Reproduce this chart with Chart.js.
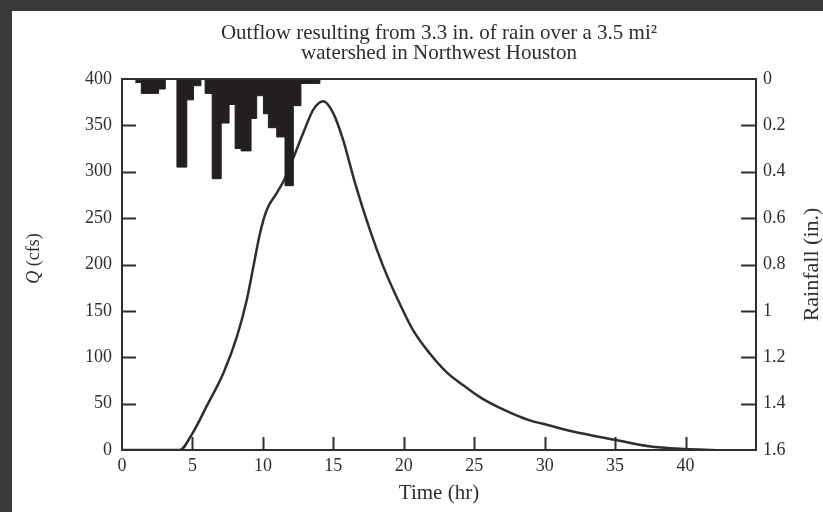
<!DOCTYPE html>
<html>
<head>
<meta charset="utf-8">
<script src="https://cdn.jsdelivr.net/npm/chart.js@4.4.0/dist/chart.umd.min.js"></script>
<style>
  html, body { margin: 0; padding: 0; background: #383838; }
  #wrap { position: absolute; left: 12px; top: 11px; width: 811px; height: 501px; background: #fff; }
</style>
</head>
<body>
<div id="wrap"><canvas id="chart"></canvas></div>
<script>
// outflow hydrograph: time (hr) and discharge Q (cfs)
const flowTime = [0, 4.1, 5, 6, 7.2, 8.15, 8.86, 9.33, 9.8, 10.28, 10.98, 11.57, 12.16, 12.87, 13.58, 14.29, 15.0, 15.7, 16.5, 17.6, 18.54, 19.49, 20.67, 21.85, 23.03, 24.2, 25.4, 26.6, 27.75, 28.94, 30.2, 32, 35, 37.4, 40, 42];
const flowQ    = [0, 0, 18, 47, 83, 122, 162, 198, 234, 259, 277, 293, 315, 342, 367, 376, 363, 334, 290, 237, 198, 165, 129, 104, 84, 70, 57, 47, 39, 32, 27, 20, 11, 4, 1, 0];

// rainfall hyetograph: start of each block (hr) and depth (in.), last entry closes the storm
const rainTime  = [0.94, 1.37, 2.6, 3.07, 3.9, 4.6, 5.07, 5.6, 5.9, 6.4, 7.04, 7.6, 8.03, 8.45, 9.16, 9.56, 10.04, 10.39, 10.98, 11.57, 12.16, 12.7, 14.05];
const rainDepth = [0.015, 0.062, 0.043, 0, 0.38, 0.09, 0.029, 0, 0.062, 0.43, 0.19, 0.11, 0.30, 0.31, 0.17, 0.072, 0.15, 0.21, 0.25, 0.46, 0.115, 0.019, 0];

const xTicks = [0, 5, 10, 15, 20, 25, 30, 35, 40];
const qTicks = [0, 50, 100, 150, 200, 250, 300, 350, 400];
const rainTicks = [0, 0.2, 0.4, 0.6, 0.8, 1, 1.2, 1.4, 1.6];

const titleLines = ['Outflow resulting from 3.3 in. of rain over a 3.5 mi\u00B2', 'watershed in Northwest Houston'];

const ink = '#2e2e2e';
const serif = '"Liberation Serif", "Times New Roman", serif';

// box around the plot, inward tick marks and the hand-set titles
const frame = {
  id: 'frame',
  afterDatasetsDraw(chart) {
    const { ctx, chartArea: a, scales } = chart;
    ctx.save();
    ctx.strokeStyle = ink;
    ctx.lineWidth = 2;
    ctx.strokeRect(a.left, a.top, a.right - a.left, a.bottom - a.top);

    ctx.beginPath();
    xTicks.forEach(v => {
      if (v === 0) return;
      const px = Math.round(scales.x.getPixelForValue(v)) + 0.5;
      ctx.moveTo(px, a.bottom);
      ctx.lineTo(px, a.bottom - 13);
    });
    qTicks.forEach(v => {
      if (v === 0 || v === 400) return;
      const py = Math.round(scales.y.getPixelForValue(v)) + 0.5;
      ctx.moveTo(a.left, py);
      ctx.lineTo(a.left + 14, py);
    });
    rainTicks.forEach(v => {
      if (v === 0 || v === 1.6) return;
      const py = Math.round(scales.y2.getPixelForValue(v)) + 0.5;
      ctx.moveTo(a.right, py);
      ctx.lineTo(a.right - 15, py);
    });
    ctx.stroke();

    ctx.fillStyle = ink;
    ctx.textBaseline = 'middle';
    ctx.textAlign = 'center';
    ctx.font = '21px ' + serif;
    const cx = (a.left + a.right) / 2;
    ctx.fillText(titleLines[0], cx, 22);
    ctx.fillText(titleLines[1], cx, 42);

    const cy = (a.top + a.bottom) / 2;
    // left axis title, italic Q
    ctx.save();
    ctx.translate(22, cy - 6);
    ctx.rotate(-Math.PI / 2);
    ctx.textAlign = 'left';
    ctx.font = 'italic 18px ' + serif;
    const wq = ctx.measureText('Q').width;
    ctx.font = '18px ' + serif;
    const wr = ctx.measureText(' (cfs)').width;
    const x0 = -(wq + wr) / 2;
    ctx.font = 'italic 18px ' + serif;
    ctx.fillText('Q', x0, 0);
    ctx.font = '18px ' + serif;
    ctx.fillText(' (cfs)', x0 + wq, 0);
    ctx.restore();

    // right axis title
    ctx.save();
    ctx.translate(800, cy);
    ctx.rotate(-Math.PI / 2);
    ctx.font = '22px ' + serif;
    ctx.fillText('Rainfall (in.)', 0, 0);
    ctx.restore();

    ctx.restore();
  }
};

const tickFont = { family: serif, size: 18 };

new Chart(document.getElementById('chart'), {
  type: 'line',
  data: {
    datasets: [
      {
        label: 'Rainfall',
        yAxisID: 'y2',
        data: rainTime.map((t, i) => ({ x: t, y: rainDepth[i] })),
        stepped: 'before',
        fill: 'origin',
        backgroundColor: '#231f20',
        borderColor: '#231f20',
        borderWidth: 1,
        pointRadius: 0
      },
      {
        label: 'Outflow',
        yAxisID: 'y',
        data: flowTime.map((t, i) => ({ x: t, y: flowQ[i] })),
        borderColor: ink,
        borderWidth: 2.5,
        cubicInterpolationMode: 'monotone',
        fill: false,
        pointRadius: 0
      }
    ]
  },
  options: {
    responsive: true,
    maintainAspectRatio: false,
    animation: false,
    layout: { padding: { top: 68 } },
    plugins: {
      legend: { display: false },
      tooltip: { enabled: false },
      title: { display: false }
    },
    scales: {
      x: {
        type: 'linear',
        position: 'bottom',
        min: 0,
        max: 45,
        grid: { display: false, drawTicks: false },
        border: { display: false },
        afterBuildTicks: s => { s.ticks = xTicks.map(v => ({ value: v })); },
        afterFit: s => { s.height = 62; },
        ticks: { font: tickFont, color: ink, padding: 5, maxRotation: 0, autoSkip: false, callback: v => String(v) },
        title: { display: true, text: 'Time (hr)', font: { family: serif, size: 21 }, color: ink, padding: { top: 0, bottom: 6 } }
      },
      y: {
        position: 'left',
        min: 0,
        max: 400,
        grid: { display: false, drawTicks: false },
        border: { display: false },
        afterBuildTicks: s => { s.ticks = qTicks.map(v => ({ value: v })); },
        afterFit: s => { s.width = 110; },
        ticks: { font: tickFont, color: ink, padding: 10, callback: v => String(v) }
      },
      y2: {
        position: 'right',
        min: 0,
        max: 1.6,
        reverse: true,
        grid: { display: false, drawTicks: false },
        border: { display: false },
        afterBuildTicks: s => { s.ticks = rainTicks.map(v => ({ value: v })); },
        afterFit: s => { s.width = 67; },
        ticks: { font: tickFont, color: ink, padding: 7, callback: v => String(v) }
      }
    }
  },
  plugins: [frame]
});
</script>
</body>
</html>
